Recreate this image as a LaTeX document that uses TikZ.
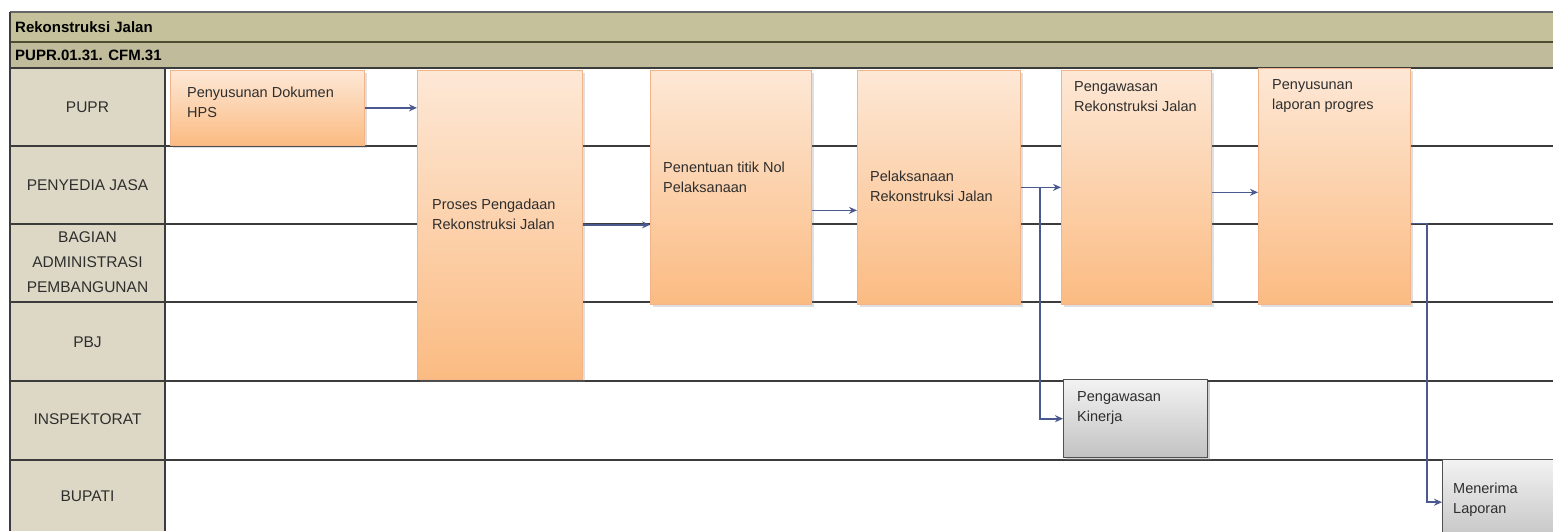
\documentclass[tikz,border=0pt]{standalone}
\usepackage{fontspec}
\setmainfont{Liberation Sans}
\usetikzlibrary{arrows.meta,shadows,calc}
\definecolor{barA}{HTML}{C5C19B}
\definecolor{barB}{HTML}{BFBB9B}
\definecolor{headcell}{HTML}{DDD8C5}
\definecolor{laneline}{HTML}{3C3C3C}
\definecolor{oliveline}{HTML}{4E4C30}
\definecolor{orTop}{HTML}{FDE8D6}
\definecolor{orBot}{HTML}{FBBB82}
\definecolor{orEdge}{HTML}{F2B488}
\definecolor{grTop}{HTML}{F2F2F2}
\definecolor{grBot}{HTML}{C2C2C2}
\definecolor{grEdge}{HTML}{505050}
\definecolor{arrowblue}{HTML}{4A5A8F}
\definecolor{txt}{HTML}{2E2E2E}
\begin{document}
\begin{tikzpicture}[x=1pt,y=-1pt,
  lanelabel/.style={font=\fontsize{15.5}{25}\selectfont, text=txt, align=center, inner sep=0pt},
  titletext/.style={font=\bfseries\fontsize{15}{18}\selectfont, text=black, anchor=west, inner sep=0pt},
  procbox/.style={draw=orEdge, line width=0.7pt, top color=orTop, bottom color=orBot, inner sep=0pt, anchor=north west,
    drop shadow={shadow xshift=2.5pt, shadow yshift=-2.5pt, opacity=0.25}},
  graybox/.style={draw=grEdge, line width=1.4pt, top color=grTop, bottom color=grBot, inner sep=0pt, anchor=north west,
    drop shadow={shadow xshift=2.5pt, shadow yshift=-2.5pt, opacity=0.35}},
  boxtext/.style={font=\fontsize{14.5}{20}\selectfont, text=txt, align=left, anchor=north west, inner sep=0pt},
  conn/.style={draw=arrowblue, line width=1.7pt, -{Stealth[length=8pt,width=7pt]}},
  sep/.style={draw=laneline, line width=2.2pt}
]
\useasboundingbox (0,0) rectangle (1553,531);
\clip (0,0) rectangle (1553,531);
\fill[white] (0,0) rectangle (1553,531);

% title bars
\fill[barA] (10,12) rectangle (1553,42);
\fill[barB] (10,42) rectangle (1553,68);
\draw[draw=gray!80!black, line width=1.6pt] (10,12) -- (1553,12);
\draw[draw=oliveline, line width=2pt] (10,42) -- (1553,42);
\node[titletext] (title) at (15,27) {Rekonstruksi Jalan};
\node[titletext] (code) at (15,55) {PUPR.01.31. CFM.31};

% header column
\fill[headcell] (10,68) rectangle (165,531);

% lane separators
\draw[sep] (10,68) -- (1553,68);
\foreach \yy in {146,224,302,381,460}
  \draw[sep] (10,\yy) -- (1553,\yy);
\draw[sep] (10,12) -- (10,531);
\draw[sep] (165,68) -- (165,531);

% lane labels
\node[lanelabel] (lPUPR) at (87.5,107) {PUPR};
\node[lanelabel] (lPJ) at (87.5,185) {PENYEDIA JASA};
\node[lanelabel] (lBAP) at (87.5,262) {BAGIAN\\ADMINISTRASI\\PEMBANGUNAN};
\node[lanelabel] (lPBJ) at (87.5,342) {PBJ};
\node[lanelabel] (lINS) at (87.5,419) {INSPEKTORAT};
\node[lanelabel] (lBUP) at (87.5,496) {BUPATI};

% process boxes
\node[procbox, minimum width=194pt, minimum height=75pt] (b1) at (170,70) {};
\node[procbox, minimum width=165pt, minimum height=309pt] (b2) at (417,70) {};
\node[procbox, minimum width=161pt, minimum height=234pt] (b3) at (650,70) {};
\node[procbox, minimum width=163pt, minimum height=234pt] (b4) at (857,70) {};
\node[procbox, minimum width=150pt, minimum height=234pt] (b5) at (1061,70) {};
\node[procbox, minimum width=152pt, minimum height=236pt] (b6) at (1258,68) {};
\node[graybox, minimum width=144pt, minimum height=78pt] (b7) at (1063,379) {};
\node[graybox, minimum width=125pt, minimum height=85pt] (b8) at (1442,459) {};

% box texts
\node[boxtext] (t1) at (187,86.5) {Penyusunan Dokumen\\HPS};
\node[boxtext] (t2) at (432,198.5) {Proses Pengadaan\\Rekonstruksi Jalan};
\node[boxtext] (t3) at (663,161.5) {Penentuan titik Nol\\Pelaksanaan};
\node[boxtext] (t4) at (870,170.5) {Pelaksanaan\\Rekonstruksi Jalan};
\node[boxtext] (t5) at (1074,81.5) {Pengawasan\\Rekonstruksi Jalan};
\node[boxtext] (t6) at (1272,79.5) {Penyusunan\\laporan progres};
\node[boxtext] (t7) at (1077,391.5) {Pengawasan\\Kinerja};
\node[boxtext] (t8) at (1453,482.5) {Menerima\\Laporan};

% connectors
\draw[conn] (b1.east) -- (b1.east -| b2.west);
\draw[conn] (b2.east) -- (b2.east -| b3.west);
\coordinate (c34) at ($(b3.east)+(0,23)$);
\draw[conn] (c34) -- (c34 -| b4.west);
\draw[conn] (b4.east) -- (b4.east -| b5.west);
\coordinate (j4) at ($(b4.east)+(19,0)$);
\draw[conn] (j4) |- (b7.west);
\coordinate (c56) at ($(b5.east)+(0,5)$);
\draw[conn] (c56) -- (c56 -| b6.west);
\coordinate (c68) at ($(b6.east)+(0,37)$);
\coordinate (k68) at ($(c68)+(16,0)$);
\draw[conn] (c68) -- (k68) |- (b8.west);
\end{tikzpicture}
\end{document}
